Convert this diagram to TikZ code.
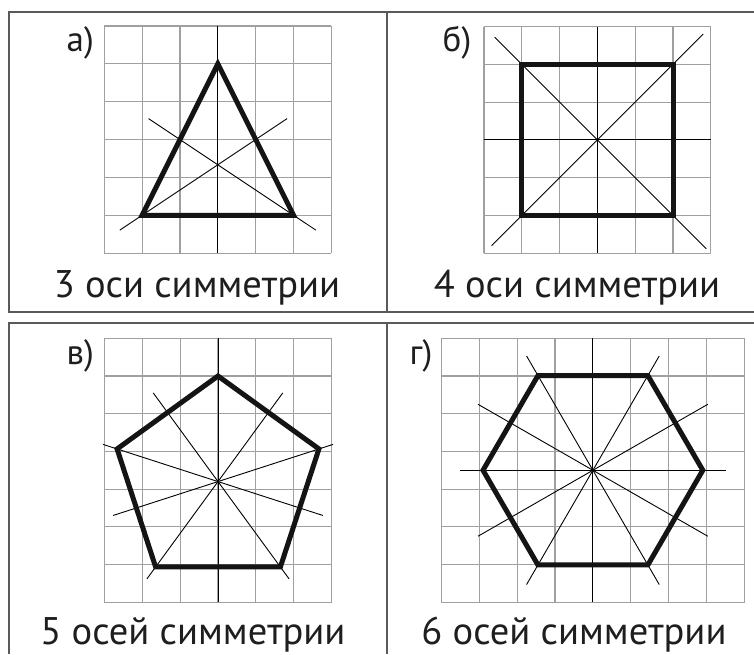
\documentclass[tikz,border=0pt]{standalone}
\usepackage{fontspec}
\setmainfont{PT Sans}
\definecolor{gridgray}{HTML}{A0A0A0}
\definecolor{framegray}{HTML}{5A5A5A}
\definecolor{textcol}{HTML}{1E1E1E}
\definecolor{figblack}{HTML}{141414}
\begin{document}
\begin{tikzpicture}[x=1pt,y=-1pt,
  gridline/.style={draw=gridgray,line width=1.1pt},
  axisline/.style={draw=black,line width=0.9pt},
  figline/.style={draw=figblack,line width=5pt,line join=miter},
  frameline/.style={draw=framegray,line width=2pt},
  plabel/.style={font=\fontsize{35}{37}\selectfont,text=textcol,inner sep=0pt,anchor=base east},
  pcaption/.style={font=\fontsize{38.5}{40}\selectfont,text=textcol,inner sep=0pt,anchor=base}]
\useasboundingbox (0,0) rectangle (754,654);
\fill[white] (0,0) rectangle (754,654);
% frames
\draw[frameline] (9,12) -- (754,12);
\draw[frameline] (9,312) -- (754,312);
\draw[frameline] (9,11) -- (9,313);
\draw[frameline] (387,12) -- (387,312);
\draw[frameline] (9,323) -- (754,323);
\draw[frameline] (9,322) -- (9,654);
\draw[frameline] (386.5,323) -- (386.5,654);
% panel a
\begin{scope}[xshift=104.3pt,yshift=-26pt,x=37.85pt,y=-37.85pt]
\foreach \i in {0,...,6} {\draw[gridline] (\i,0) -- (\i,6); \draw[gridline] (0,\i) -- (6,\i);}
\draw[axisline] (3,0) -- (3,6);
\draw[axisline] (0.41,5.393) -- (4.83,2.447);
\draw[axisline] (5.59,5.393) -- (1.17,2.447);
\draw[figline] (3,1) -- (1,5) -- (5,5) -- cycle;
\end{scope}
% panel b
\begin{scope}[xshift=484pt,yshift=-26.5pt,x=37.8pt,y=-37.8pt]
\foreach \i in {0,...,6} {\draw[gridline] (\i,0) -- (\i,6); \draw[gridline] (0,\i) -- (6,\i);}
\draw[axisline] (3,0) -- (3,6);
\draw[axisline] (0,3) -- (6,3);
\draw[axisline] (0.28,0.28) -- (5.88,5.88);
\draw[axisline] (0.2,5.8) -- (5.8,0.2);
\draw[figline] (1,1) rectangle (5,5);
\end{scope}
% panel v
\begin{scope}[xshift=104.3pt,yshift=-338.3pt,x=37.9pt,y=-37.7pt]
\foreach \i in {0,...,6} {\draw[gridline] (\i,0) -- (\i,7);}
\foreach \i in {0,...,7} {\draw[gridline] (0,\i) -- (6,\i);}
\draw[axisline] (3,0) -- (3,7);
\foreach \a in {162,234,306,18}
  \draw[axisline] ({3+3.19*cos(\a)},{3.8-3.19*sin(\a)}) -- ({3-2.91*cos(\a)},{3.8+2.91*sin(\a)});
\draw[figline] (3,1) \foreach \a in {162,234,306,18} {-- ({3+2.8*cos(\a)},{3.8-2.8*sin(\a)})} -- cycle;
\end{scope}
% panel g
\begin{scope}[xshift=441.3pt,yshift=-338.3pt,x=37.9pt,y=-37.7pt]
\foreach \i in {0,...,8} {\draw[gridline] (\i,0) -- (\i,7);}
\foreach \i in {0,...,7} {\draw[gridline] (0,\i) -- (8,\i);}
\foreach \a in {0,30,...,150}
  \draw[axisline] ({4+3.5*cos(\a)},{3.5-3.5*sin(\a)}) -- ({4-3.5*cos(\a)},{3.5+3.5*sin(\a)});
\draw[figline] (6.9,3.5) \foreach \a in {60,120,...,300} {-- ({4+2.9*cos(\a)},{3.5-2.9*sin(\a)})} -- cycle;
\end{scope}
% labels
\node[plabel] (la) at (94,51) {а)};
\node[plabel] (lb) at (471.5,51) {б)};
\node[plabel] (lv) at (94,364) {в)};
\node[plabel] (lg) at (432.5,364) {г)};
% captions
\node[pcaption] (ca) at (197,297) {3 оси симметрии};
\node[pcaption] (cb) at (577,297) {4 оси симметрии};
\node[pcaption] (cv) at (193,644.5) {5 осей симметрии};
\node[pcaption] (cg) at (574,644.5) {6 осей симметрии};
\end{tikzpicture}
\end{document}
